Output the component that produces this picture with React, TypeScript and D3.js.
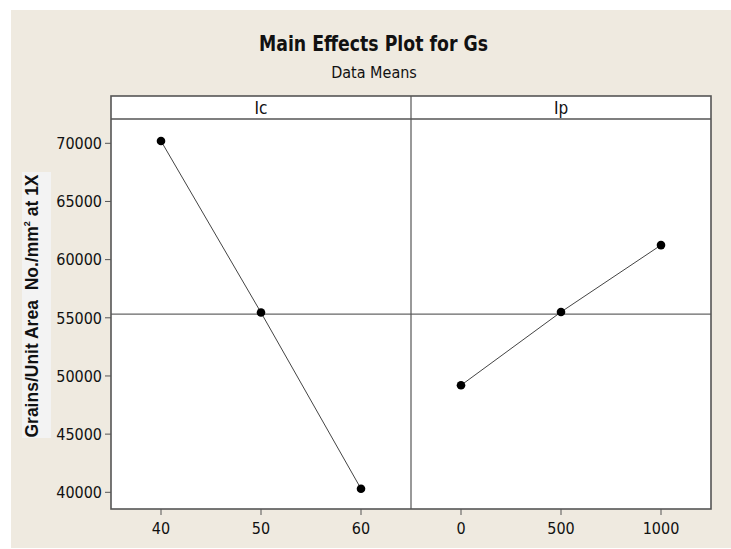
import React from "react";
import * as d3 from "d3";

const factors = ["Ic", "Ip"];
const icLevels = [40, 50, 60];
const icMeans = [70200, 55450, 40300];
const ipLevels = [0, 500, 1000];
const ipMeans = [49200, 55500, 61250];
const yTicks = [40000, 45000, 50000, 55000, 60000, 65000, 70000];
const icTicks = [40, 50, 60];
const ipTicks = [0, 500, 1000];

const W = 731;
const H = 549;
const left = 111;
const right = 711;
const top = 96;
const headerBottom = 119;
const bottom = 509;
const panelW = (right - left) / 2;
const FONT = "Tahoma, 'DejaVu Sans Condensed', 'DejaVu Sans', sans-serif";

export default function App() {
  const y = d3.scaleLinear().domain([40000, 70000]).range([492.3, 143.3]);
  const xIc = d3.scaleLinear().domain([35, 65]).range([left, left + panelW]);
  const xIp = d3.scaleLinear().domain([-250, 1250]).range([left + panelW, right]);
  const allMeans = [...icMeans, ...ipMeans];
  const grand = d3.mean(allMeans) as number;
  const line = d3.line<[number, number]>().x((d) => d[0]).y((d) => d[1]);

  const panels = [
    { name: factors[0], x: xIc, levels: icLevels, means: icMeans, ticks: icTicks },
    { name: factors[1], x: xIp, levels: ipLevels, means: ipMeans, ticks: ipTicks },
  ];

  return (
    <svg
      width={W}
      height={H}
      style={{ position: "absolute", left: 0, top: 0, background: "#fff" }}
      fontFamily={FONT}
    >
      <rect x={11} y={10} width={W - 11} height={538} fill="#efeae0" />
      <text
        x={259}
        y={51}
        fontSize={21}
        fontWeight="bold"
        fill="#111"
        textLength={229}
        lengthAdjust="spacingAndGlyphs"
      >
        Main Effects Plot for Gs
      </text>
      <text x={374} y={78} textAnchor="middle" fontSize={16} fill="#111">
        Data Means
      </text>

      {/* plot area */}
      <rect x={left} y={top} width={right - left} height={bottom - top} fill="#fff" />

      {/* grand mean reference line */}
      <line x1={left} x2={right} y1={y(grand)} y2={y(grand)} stroke="#666" strokeWidth={1.2} />

      {panels.map((p) => {
        const pts: [number, number][] = p.levels.map((l, i) => [p.x(l), y(p.means[i])]);
        const [x0, x1] = p.x.range();
        return (
          <g key={p.name}>
            <text x={(x0 + x1) / 2} y={114} textAnchor="middle" fontSize={17} fill="#111">
              {p.name}
            </text>
            <path d={line(pts) || ""} fill="none" stroke="#444" strokeWidth={1} />
            {pts.map((d, i) => (
              <circle key={i} cx={d[0]} cy={d[1]} r={4.3} fill="#000" />
            ))}
            {p.ticks.map((t) => (
              <g key={t}>
                <line x1={p.x(t)} x2={p.x(t)} y1={bottom} y2={bottom + 6} stroke="#555" strokeWidth={1} />
                <text x={p.x(t)} y={534} textAnchor="middle" fontSize={16} fill="#111">
                  {t}
                </text>
              </g>
            ))}
          </g>
        );
      })}

      {/* frame */}
      <rect x={left} y={top} width={right - left} height={bottom - top} fill="none" stroke="#555" strokeWidth={1.6} />
      <line x1={left} x2={right} y1={headerBottom} y2={headerBottom} stroke="#555" strokeWidth={1.6} />
      <line x1={left + panelW} x2={left + panelW} y1={top} y2={bottom} stroke="#555" strokeWidth={1.2} />

      {/* y axis ticks */}
      {yTicks.map((t) => (
        <g key={t}>
          <line x1={left - 6} x2={left} y1={y(t)} y2={y(t)} stroke="#555" strokeWidth={1} />
          <text x={102} y={y(t)} dy="0.36em" textAnchor="end" fontSize={16} fill="#111">
            {t}
          </text>
        </g>
      ))}

      {/* y axis label */}
      <rect x={22} y={172} width={29} height={266} fill="#f3f3f3" />
      <text
        transform={`translate(37.5,306) rotate(-90)`}
        textAnchor="middle"
        fontSize={17.5}
        fontWeight="bold"
        fontFamily="'Liberation Sans', Arial, sans-serif"
        fill="#111"
      >
        Grains/Unit Area{"\u00a0\u00a0"}No./mm
        <tspan fontSize={9} dy={-8}>2</tspan>
        <tspan dy={8}> at 1X</tspan>
      </text>
    </svg>
  );
}
